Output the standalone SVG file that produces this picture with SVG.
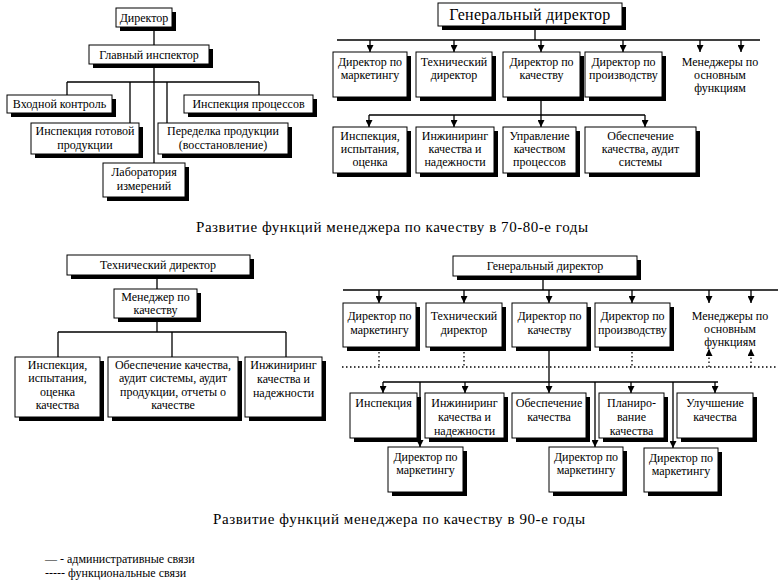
<svg xmlns="http://www.w3.org/2000/svg" width="780" height="583" viewBox="0 0 780 583" font-family="'Liberation Serif', 'DejaVu Serif', 'Times New Roman', serif">
<defs>
<marker id="arr" viewBox="0 0 8 8" refX="8" refY="4" markerWidth="7" markerHeight="7" markerUnits="userSpaceOnUse" orient="auto">
<path d="M0,0 L8,4 L0,8 z" fill="#000"/>
</marker>
</defs>
<style>
.bg{fill:#fff}
.sh{fill:#000}
.bx{fill:#fff;stroke:#000;stroke-width:1}
text{font-family:'Liberation Serif','DejaVu Serif','Times New Roman',serif;fill:#000}
.t{font-size:12px;text-anchor:middle}
.tb{font-size:16px;letter-spacing:0.3px}
.cap{font-size:15px;text-anchor:middle}
.lg{font-size:12px}
.c{stroke:#000;stroke-width:1.3;fill:none}
.d{stroke:#000;stroke-width:1.3;fill:none;stroke-dasharray:1.5 2.5}
.a{stroke:#000;stroke-width:1.3;fill:none;marker-end:url(#arr)}
.da{stroke:#000;stroke-width:1.3;fill:none;stroke-dasharray:1.5 2.5;marker-end:url(#arr)}
</style>
<rect class="bg" width="780" height="583"/>

<g id="connectors">
<!-- top left -->
<path class="c" d="M154,27 V45 M154,64 V163 M67,82 H259 M67,82 V95 M130,82 V123 M167,82 V123 M259,82 V95"/>
<!-- top right -->
<path class="c" d="M535,26 V40 M337,40 H760 M541,97 V115 M369,115 H645"/>
<line class="a" x1="370" y1="40" x2="370" y2="52"/>
<line class="a" x1="454" y1="40" x2="454" y2="52"/>
<line class="a" x1="541" y1="40" x2="541" y2="52"/>
<line class="a" x1="623" y1="40" x2="623" y2="52"/>
<line class="a" x1="700" y1="40" x2="700" y2="52"/>
<line class="a" x1="741" y1="40" x2="741" y2="52"/>
<line class="a" x1="369" y1="115" x2="369" y2="127"/>
<line class="a" x1="454" y1="115" x2="454" y2="127"/>
<line class="a" x1="541" y1="115" x2="541" y2="127"/>
<line class="a" x1="645" y1="115" x2="645" y2="127"/>
<!-- bottom left -->
<path class="c" d="M157,275 V289 M157,318 V332 M58,332 H286 M58,332 V357 M172,332 V357 M286,332 V357"/>
<!-- bottom right -->
<path class="c" d="M543,276 V290 M343,290 H778 M549,347 V382 M383,382 H718"/>
<line class="a" x1="379" y1="290" x2="379" y2="303"/>
<line class="a" x1="464" y1="290" x2="464" y2="303"/>
<line class="a" x1="549" y1="290" x2="549" y2="303"/>
<line class="a" x1="632" y1="290" x2="632" y2="303"/>
<line class="a" x1="709" y1="290" x2="709" y2="303"/>
<line class="a" x1="751" y1="290" x2="751" y2="303"/>
<line class="a" x1="383" y1="382" x2="383" y2="393"/>
<line class="a" x1="465" y1="382" x2="465" y2="393"/>
<line class="a" x1="549" y1="382" x2="549" y2="393"/>
<line class="a" x1="631" y1="382" x2="631" y2="393"/>
<line class="a" x1="715" y1="382" x2="715" y2="393"/>
<line class="a" x1="420" y1="382" x2="420" y2="447"/>
<line class="a" x1="595" y1="382" x2="595" y2="447"/>
<line class="a" x1="673" y1="382" x2="673" y2="448"/>
<path class="d" d="M342,367 H778 M379,348 V367 M464,348 V367 M632,348 V367"/>
<line class="da" x1="709" y1="367" x2="709" y2="349"/>
<line class="da" x1="751" y1="367" x2="751" y2="349"/>
</g>

<!-- ===== top left ===== -->
<g id="n-director">
<rect class="sh" x="120" y="12" width="56" height="19"/>
<rect class="bx" x="116" y="8" width="56" height="19"/>
<text class="t" x="144" y="22">Директор</text>
</g>
<g id="n-chief-inspector">
<rect class="sh" x="93" y="49" width="120" height="19"/>
<rect class="bx" x="89" y="45" width="120" height="19"/>
<text class="t" x="149" y="59">Главный инспектор</text>
</g>
<g id="n-input-control">
<rect class="sh" x="11" y="99" width="105" height="18"/>
<rect class="bx" x="7" y="95" width="105" height="18"/>
<text class="t" x="59.5" y="108">Входной контроль</text>
</g>
<g id="n-final-inspection">
<rect class="sh" x="35" y="127" width="108" height="31"/>
<rect class="bx" x="31" y="123" width="108" height="31"/>
<text class="t" x="85" y="135">Инспекция готовой</text>
<text class="t" x="85" y="149">продукции</text>
</g>
<g id="n-lab">
<rect class="sh" x="107" y="167" width="82" height="34"/>
<rect class="bx" x="103" y="163" width="82" height="34"/>
<text class="t" x="144" y="176">Лаборатория</text>
<text class="t" x="144" y="190">измерений</text>
</g>
<g id="n-rework">
<rect class="sh" x="162" y="127" width="130" height="31"/>
<rect class="bx" x="158" y="123" width="130" height="31"/>
<text class="t" x="223" y="135">Переделка продукции</text>
<text class="t" x="223" y="149">(восстановление)</text>
</g>
<g id="n-process-inspection">
<rect class="sh" x="188" y="99" width="129" height="18"/>
<rect class="bx" x="184" y="95" width="129" height="18"/>
<text class="t" x="248.5" y="108">Инспекция процессов</text>
</g>

<!-- ===== top right ===== -->
<g id="n-gd1">
<rect class="sh" x="442" y="7" width="184" height="23"/>
<rect class="bx" x="438" y="3" width="184" height="23"/>
<text class="t tb" x="530" y="20">Генеральный директор</text>
</g>
<g id="n-mkt1">
<rect class="sh" x="337" y="56" width="74" height="45"/>
<rect class="bx" x="333" y="52" width="74" height="45"/>
<text class="t" x="370" y="66">Директор по</text>
<text class="t" x="370" y="79">маркетингу</text>
</g>
<g id="n-tech1">
<rect class="sh" x="420" y="56" width="76" height="45"/>
<rect class="bx" x="416" y="52" width="76" height="45"/>
<text class="t" x="454" y="66">Технический</text>
<text class="t" x="454" y="79">директор</text>
</g>
<g id="n-qual1">
<rect class="sh" x="507" y="56" width="77" height="45"/>
<rect class="bx" x="503" y="52" width="77" height="45"/>
<text class="t" x="541.5" y="66">Директор по</text>
<text class="t" x="541.5" y="79">качеству</text>
</g>
<g id="n-prod1">
<rect class="sh" x="589" y="56" width="77" height="45"/>
<rect class="bx" x="585" y="52" width="77" height="45"/>
<text class="t" x="623.5" y="66">Директор по</text>
<text class="t" x="623.5" y="79">производству</text>
</g>
<g id="n-managers1">
<text class="t" x="720" y="66">Менеджеры по</text>
<text class="t" x="720" y="79">основным</text>
<text class="t" x="720" y="92">функциям</text>
</g>
<g id="n-insp1">
<rect class="sh" x="337" y="131" width="74" height="46"/>
<rect class="bx" x="333" y="127" width="74" height="46"/>
<text class="t" x="370" y="140">Инспекция,</text>
<text class="t" x="370" y="153">испытания,</text>
<text class="t" x="370" y="166">оценка</text>
</g>
<g id="n-eng1">
<rect class="sh" x="420" y="131" width="78" height="46"/>
<rect class="bx" x="416" y="127" width="78" height="46"/>
<text class="t" x="455" y="140">Инжиниринг</text>
<text class="t" x="455" y="153">качества и</text>
<text class="t" x="455" y="166">надежности</text>
</g>
<g id="n-pqm1">
<rect class="sh" x="507" y="131" width="73" height="46"/>
<rect class="bx" x="503" y="127" width="73" height="46"/>
<text class="t" x="539.5" y="140">Управление</text>
<text class="t" x="539.5" y="153">качеством</text>
<text class="t" x="539.5" y="166">процессов</text>
</g>
<g id="n-qa1">
<rect class="sh" x="589" y="131" width="111" height="46"/>
<rect class="bx" x="585" y="127" width="111" height="46"/>
<text class="t" x="640.5" y="140">Обеспечение</text>
<text class="t" x="640.5" y="153">качества, аудит</text>
<text class="t" x="640.5" y="166">системы</text>
</g>

<text class="cap" x="392" y="232" textLength="392">Развитие функций менеджера по качеству в 70-80-е годы</text>

<!-- ===== bottom left ===== -->
<g id="n-tech2">
<rect class="sh" x="71" y="259" width="183" height="20"/>
<rect class="bx" x="67" y="255" width="183" height="20"/>
<text class="t" x="158" y="269">Технический директор</text>
</g>
<g id="n-qm2">
<rect class="sh" x="118" y="293" width="83" height="29"/>
<rect class="bx" x="114" y="289" width="83" height="29"/>
<text class="t" x="155.5" y="301">Менеджер по</text>
<text class="t" x="155.5" y="314">качеству</text>
</g>
<g id="n-insp2">
<rect class="sh" x="19" y="361" width="85" height="60"/>
<rect class="bx" x="15" y="357" width="85" height="60"/>
<text class="t" x="57.5" y="369">Инспекция,</text>
<text class="t" x="57.5" y="382">испытания,</text>
<text class="t" x="57.5" y="396">оценка</text>
<text class="t" x="57.5" y="409">качества</text>
</g>
<g id="n-qa2">
<rect class="sh" x="112" y="361" width="130" height="60"/>
<rect class="bx" x="108" y="357" width="130" height="60"/>
<text class="t" x="173" y="369">Обеспечение качества,</text>
<text class="t" x="173" y="382">аудит системы, аудит</text>
<text class="t" x="173" y="396">продукции, отчеты о</text>
<text class="t" x="173" y="409">качестве</text>
</g>
<g id="n-eng2">
<rect class="sh" x="249" y="361" width="77" height="60"/>
<rect class="bx" x="245" y="357" width="77" height="60"/>
<text class="t" x="283.5" y="369">Инжиниринг</text>
<text class="t" x="283.5" y="383">качества и</text>
<text class="t" x="283.5" y="397">надежности</text>
</g>

<!-- ===== bottom right ===== -->
<g id="n-gd2">
<rect class="sh" x="457" y="260" width="184" height="20"/>
<rect class="bx" x="453" y="256" width="184" height="20"/>
<text class="t" x="545" y="270">Генеральный директор</text>
</g>
<g id="n-mkt2">
<rect class="sh" x="347" y="307" width="73" height="44"/>
<rect class="bx" x="343" y="303" width="73" height="44"/>
<text class="t" x="379.5" y="320">Директор по</text>
<text class="t" x="379.5" y="334">маркетингу</text>
</g>
<g id="n-tech3">
<rect class="sh" x="430" y="307" width="76" height="44"/>
<rect class="bx" x="426" y="303" width="76" height="44"/>
<text class="t" x="464" y="320">Технический</text>
<text class="t" x="464" y="334">директор</text>
</g>
<g id="n-qual2">
<rect class="sh" x="516" y="307" width="75" height="44"/>
<rect class="bx" x="512" y="303" width="75" height="44"/>
<text class="t" x="549.5" y="320">Директор по</text>
<text class="t" x="549.5" y="334">качеству</text>
</g>
<g id="n-prod2">
<rect class="sh" x="599" y="307" width="75" height="44"/>
<rect class="bx" x="595" y="303" width="75" height="44"/>
<text class="t" x="632.5" y="320">Директор по</text>
<text class="t" x="632.5" y="334">производству</text>
</g>
<g id="n-managers2">
<text class="t" x="730" y="320">Менеджеры по</text>
<text class="t" x="730" y="333">основным</text>
<text class="t" x="730" y="346">функциям</text>
</g>
<g id="n-insp3">
<rect class="sh" x="354" y="397" width="67" height="45"/>
<rect class="bx" x="350" y="393" width="67" height="45"/>
<text class="t" x="383.5" y="407">Инспекция</text>
</g>
<g id="n-eng3">
<rect class="sh" x="429" y="397" width="79" height="45"/>
<rect class="bx" x="425" y="393" width="79" height="45"/>
<text class="t" x="464.5" y="407">Инжиниринг</text>
<text class="t" x="464.5" y="421">качества и</text>
<text class="t" x="464.5" y="435">надежности</text>
</g>
<g id="n-qa3">
<rect class="sh" x="516" y="397" width="74" height="45"/>
<rect class="bx" x="512" y="393" width="74" height="45"/>
<text class="t" x="549" y="407">Обеспечение</text>
<text class="t" x="549" y="421">качества</text>
</g>
<g id="n-plan3">
<rect class="sh" x="603" y="397" width="65" height="45"/>
<rect class="bx" x="599" y="393" width="65" height="45"/>
<text class="t" x="631.5" y="407">Планиро-</text>
<text class="t" x="631.5" y="421">вание</text>
<text class="t" x="631.5" y="435">качества</text>
</g>
<g id="n-impr3">
<rect class="sh" x="681" y="397" width="76" height="45"/>
<rect class="bx" x="677" y="393" width="76" height="45"/>
<text class="t" x="715" y="407">Улучшение</text>
<text class="t" x="715" y="421">качества</text>
</g>
<g id="n-mkt3a">
<rect class="sh" x="392" y="451" width="75" height="45"/>
<rect class="bx" x="388" y="447" width="75" height="45"/>
<text class="t" x="425.5" y="461">Директор по</text>
<text class="t" x="425.5" y="474">маркетингу</text>
</g>
<g id="n-mkt3b">
<rect class="sh" x="553" y="451" width="74" height="45"/>
<rect class="bx" x="549" y="447" width="74" height="45"/>
<text class="t" x="586" y="461">Директор по</text>
<text class="t" x="586" y="474">маркетингу</text>
</g>
<g id="n-mkt3c">
<rect class="sh" x="648" y="452" width="74" height="44"/>
<rect class="bx" x="644" y="448" width="74" height="44"/>
<text class="t" x="681" y="462">Директор по</text>
<text class="t" x="681" y="475">маркетингу</text>
</g>

<text class="cap" x="399" y="524" textLength="372">Развитие функций менеджера по качеству в 90-е годы</text>

<g id="legend">
<text class="lg" x="45" y="563">— - административные связи</text>
<text class="lg" x="45" y="577">----- функциональные связи</text>
</g>
</svg>
